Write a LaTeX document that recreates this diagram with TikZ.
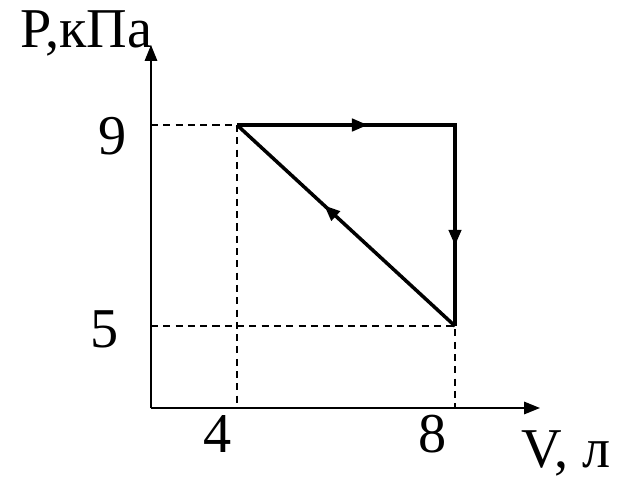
\documentclass[tikz,border=0pt]{standalone}
\usepackage{fontspec}
\setmainfont{Liberation Serif}
\usetikzlibrary{arrows.meta,decorations.markings}
\tikzset{
  axis/.style={line width=1.1pt, -{Triangle[length=9pt,width=7pt]}},
  guide/.style={line width=0.8pt, dashed, dash pattern=on 4pt off 3pt},
  cycle/.style={line width=2pt, line join=miter},
  midarrow/.style={postaction={decorate, decoration={markings,
    mark=at position 0.6 with {\arrow{Triangle[length=9pt,width=7pt]}}}}},
  lbl/.style={inner sep=0pt, font=\fontsize{32}{36}\selectfont}
}

\begin{document}
\begin{tikzpicture}[x=0.02cm, y=-0.02cm]
  \useasboundingbox (0,0) rectangle (623,477);
  % axes
  \coordinate (O) at (151,408);
  \coordinate (ytop) at (151,45);
  \coordinate (xend) at (540,408);
  \draw[axis] (O) -- (ytop);
  \draw[axis] (O) -- (xend);
  % states
  \coordinate (A) at (237,125);
  \coordinate (B) at (455,125);
  \coordinate (C) at (455,326);
  \coordinate (p9) at (151,125);
  \coordinate (p5) at (151,326);
  \coordinate (v4) at (237,408);
  \coordinate (v8) at (455,408);
  % guides
  \draw[guide] (p9) -- (A) -- (v4);
  \draw[guide] (p5) -- (C) -- (v8);
  % cycle
  \draw[cycle, midarrow] (A) -- (B);
  \draw[cycle, midarrow] (B) -- (C);
  \draw[cycle, midarrow] (C) -- (A);
  \draw[cycle] (A) -- (B) -- (C);
  % labels
  \node[lbl] (plabel) at (86,33) {P,кПа};
  \node[lbl] (nine) at (113,136) {9};
  \node[lbl] (five) at (105,329) {5};
  \node[lbl] (four) at (218,434) {4};
  \node[lbl] (eight) at (433,434) {8};
  \node[lbl] (vlabel) at (566,453) {V, л};
\end{tikzpicture}
\end{document}
